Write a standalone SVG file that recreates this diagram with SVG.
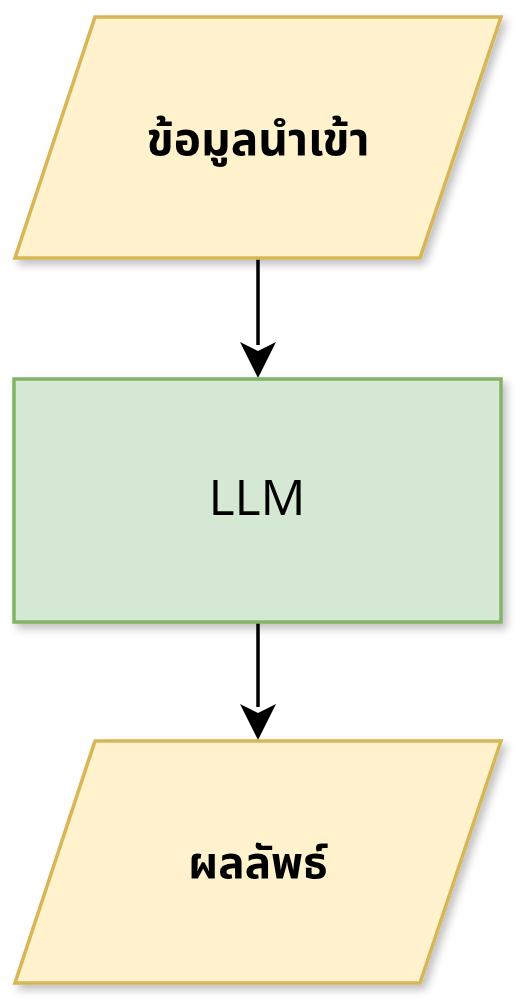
<svg xmlns="http://www.w3.org/2000/svg" width="524" height="1008" viewBox="0 0 524 1008">
<style>
.io{fill:#fff2cc;stroke:#d6b656;stroke-width:3.5}
.proc{fill:#d5e8d4;stroke:#82b366;stroke-width:3.5}
.th{font-family:"Noto Sans","Noto Sans Thai","DejaVu Sans",sans-serif;font-weight:bold;fill:#000;text-anchor:middle}
.en{font-family:"Open Sans","Noto Sans",sans-serif;font-size:50px;fill:#000;text-anchor:middle}
.edge{stroke:#000;stroke-width:3.5;fill:none}
</style>
<defs>
<filter id="sh" x="-10%" y="-10%" width="125%" height="130%">
<feGaussianBlur in="SourceAlpha" stdDeviation="4"/>
<feOffset dx="4" dy="5" result="b"/>
<feComponentTransfer><feFuncA type="linear" slope="0.25"/></feComponentTransfer>
<feMerge><feMergeNode/><feMergeNode in="SourceGraphic"/></feMerge>
</filter>
</defs>
<rect width="524" height="1008" fill="#fff"/>
<g id="connectors">
<line class="edge" x1="258" y1="259" x2="258" y2="345"/>
<path d="M240,342 L258,351 L276,342 L258,378 Z" fill="#000"/>
<line class="edge" x1="258" y1="623" x2="258" y2="707"/>
<path d="M240,704 L258,713 L276,704 L258,740 Z" fill="#000"/>
</g>
<g id="input" filter="url(#sh)">
<polygon class="io" points="95,17 501,17 420,258 15,258"/>
<text class="th" x="258" y="155" font-size="46">ข้อมูลนำเข้า</text>
</g>
<g id="llm" filter="url(#sh)">
<rect class="proc" x="14" y="379" width="487" height="243"/>
<text class="en" x="257" y="515">LLM</text>
</g>
<g id="output" filter="url(#sh)">
<polygon class="io" points="95,741 501,741 420,983 15,983"/>
<text class="th" x="258" y="878" font-size="44">ผลลัพธ์</text>
</g>
</svg>
